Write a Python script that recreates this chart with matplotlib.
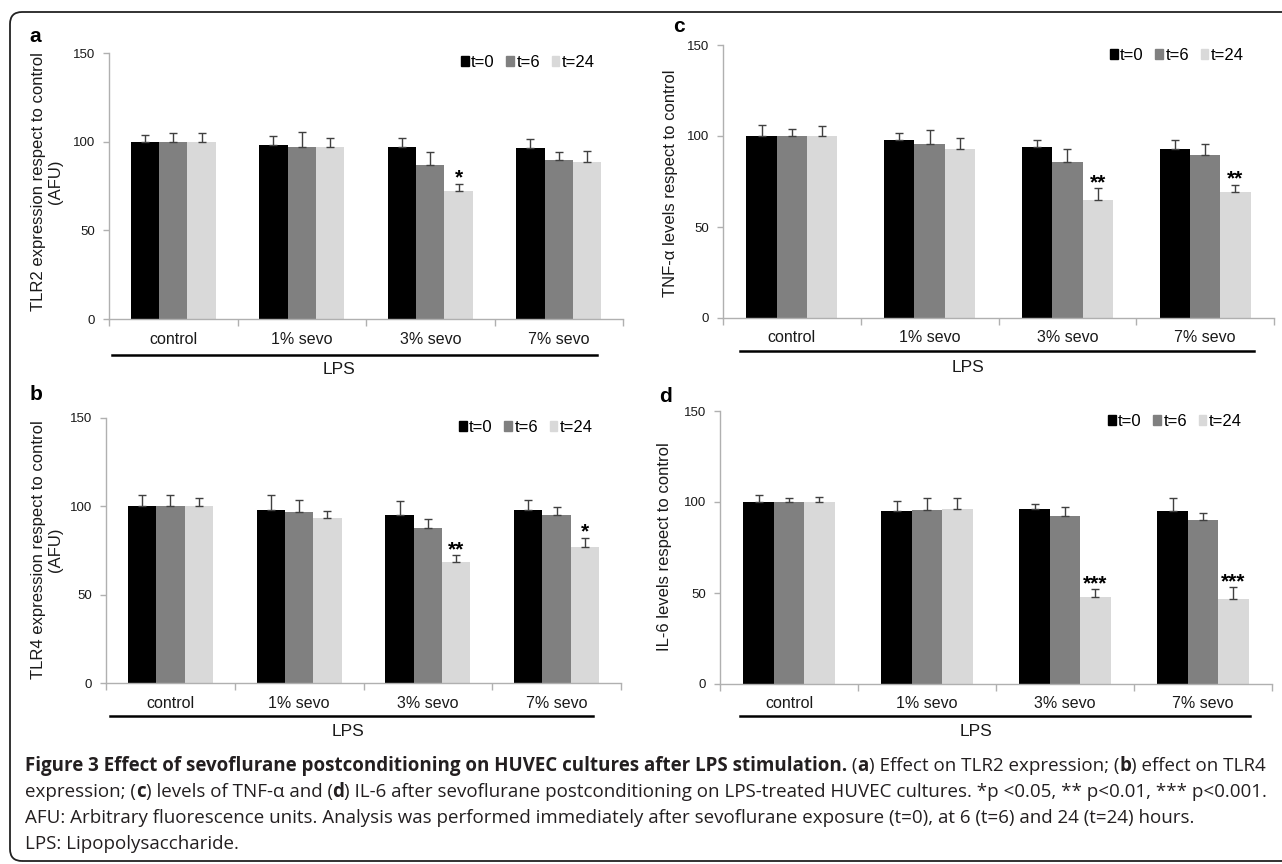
import numpy as np
import matplotlib.pyplot as plt
from matplotlib.patches import Patch, FancyBboxPatch

W, H = 1282, 864
fig = plt.figure(figsize=(W / 100, H / 100), dpi=100)

CHART_FONT = ['Liberation Sans', 'DejaVu Sans']
CAP_FONT = ['Open Sans', 'DejaVu Sans']

categories = ['control', '1% sevo', '3% sevo', '7% sevo']
series = ['t=0', 't=6', 't=24']
colors = ['#000000', '#808080', '#d9d9d9']

# rows: t=0, t=6, t=24 ; columns: categories
tlr2_mean = [[100, 98, 97, 96.7], [100, 97, 87, 89.7], [100, 97, 72.2, 88.6]]
tlr2_err = [[4, 5.3, 5.2, 4.7], [5, 8.2, 7.3, 4.5], [5, 5.2, 4.1, 6]]
tlr2_stars = ['', '', '*', '']

tlr4_mean = [[100, 97.9, 95.1, 98.1], [100, 96.6, 88, 95.2], [100, 93.2, 68.3, 77.2]]
tlr4_err = [[6.5, 8.6, 8.2, 5.5], [6.5, 7, 5.1, 4.2], [4.6, 4, 4.2, 5.1]]
tlr4_stars = ['', '', '**', '*']

tnf_mean = [[100, 97.9, 93.8, 92.6], [100, 95.8, 85.6, 89.6], [100, 92.6, 64.9, 69.5]]
tnf_err = [[6.2, 4, 3.8, 5.1], [4, 7.3, 7.5, 6.2], [5.3, 6.4, 6.4, 3.8]]
tnf_stars = ['', '', '**', '**']

il6_mean = [[100, 95, 96.3, 95], [100, 95.8, 92.1, 89.9], [100, 96.3, 48, 46.7]]
il6_err = [[4, 5.5, 2.8, 7.2], [2.2, 6.4, 5.3, 4], [2.8, 5.9, 4.2, 6.4]]
il6_stars = ['', '', '***', '***']

ylabels = ['TLR2 expression respect to control\n(AFU)',
           'TLR4 expression respect to control\n(AFU)',
           'TNF-\u03b1 levels respect to control',
           'IL-6 levels respect to control']


def px_axes(l, r, t, b):
    return fig.add_axes([l / W, 1 - b / H, (r - l) / W, (b - t) / H])


def draw_panel(box, means, errs, stars, letter, letter_xy, ylabel, ylabel_xy,
               lps_line, lps_text):
    l, r, t, b = box
    ax = px_axes(l, r, t, b)
    x = np.arange(len(categories))
    bw = 0.22
    for i in range(3):
        xs = x + (i - 1) * bw
        ax.bar(xs, means[i], bw, color=colors[i], zorder=2)
        ax.errorbar(xs, means[i], yerr=[np.zeros(len(x)), errs[i]], fmt='none',
                    ecolor='#404040', elinewidth=1, capsize=3, capthick=1, zorder=3)
    for j, s in enumerate(stars):
        if s:
            ax.annotate(s, (x[j] + bw, means[2][j] + errs[2][j]), xytext=(0, 0),
                        textcoords='offset points', ha='center', va='baseline',
                        fontsize=15, fontweight='bold', family=CHART_FONT)

    ax.set_xlim(-0.5, 3.5)
    ax.set_ylim(0, 150)
    ax.set_yticks([0, 50, 100, 150])
    ax.set_xticks(x)
    ax.set_xticklabels(categories, family=CHART_FONT, fontsize=11.5, color='#1a1a1a')
    ax.set_xticks(np.arange(-0.5, 4, 1), minor=True)
    ax.tick_params(axis='x', which='major', length=0, pad=9)
    ax.tick_params(axis='x', which='minor', length=5, color='#b0b0b0', width=1)
    ax.tick_params(axis='y', length=4, color='#b0b0b0', width=1, pad=6,
                   labelsize=9.5, labelcolor='#1a1a1a')
    for lab in ax.get_yticklabels():
        lab.set_family(CHART_FONT)
    for sp in ['top', 'right']:
        ax.spines[sp].set_visible(False)
    for sp in ['left', 'bottom']:
        ax.spines[sp].set_color('#b0b0b0')
        ax.spines[sp].set_linewidth(1)

    handles = [Patch(color=c) for c in colors]
    ax.legend(handles, series, ncol=3, loc='center right', bbox_to_anchor=(0.945, 0.963),
              frameon=False, handlelength=0.45, handleheight=0.55, handletextpad=0.15,
              columnspacing=0.7, borderpad=0, borderaxespad=0,
              prop={'family': CHART_FONT, 'size': 12})

    hpx = b - t
    x0, x1, off = lps_line
    ax.plot([x0, x1], [-off / hpx, -off / hpx], transform=ax.transAxes, clip_on=False,
            color='black', lw=1.8)
    tx, toff = lps_text
    ax.text(tx, -toff / hpx, 'LPS', transform=ax.transAxes, ha='center', va='center',
            fontsize=12.5, family=CHART_FONT, color='#1a1a1a')

    fig.text(letter_xy[0] / W, 1 - letter_xy[1] / H, letter, ha='center', va='center',
             fontsize=15, fontweight='bold', family=CHART_FONT)
    fig.text(ylabel_xy[0] / W, 1 - ylabel_xy[1] / H, ylabel, rotation=90, ha='center',
             va='center', multialignment='center', fontsize=12, family=CHART_FONT,
             color='#1a1a1a', linespacing=1.2)
    return ax


draw_panel((109, 623, 53, 319), tlr2_mean, tlr2_err, tlr2_stars, 'a', (35, 37),
           ylabels[0], (47, 182), (0.006, 0.949, 36), (0.447, 51))
draw_panel((106, 621, 418, 683), tlr4_mean, tlr4_err, tlr4_stars, 'b', (36, 394),
           ylabels[1], (47, 550), (0.008, 0.946, 33), (0.47, 49))
draw_panel((723, 1274, 45, 318), tnf_mean, tnf_err, tnf_stars, 'c', (679, 27),
           ylabels[2], (671, 183), (0.031, 0.964, 33), (0.445, 49))
draw_panel((720, 1272, 411, 684), il6_mean, il6_err, il6_stars, 'd', (666, 397),
           ylabels[3], (665, 547), (0.036, 0.96, 32), (0.464, 48))

# frame round the figure
fig.patches.append(FancyBboxPatch((0.10, 0.03), 13.0, 8.49,
                                  boxstyle='round,pad=0,rounding_size=0.12',
                                  transform=fig.dpi_scale_trans, fill=False,
                                  edgecolor='#222222', lw=1.3))

# caption, drawn run by run so the bold pieces sit inline
caption = [
    [('Figure 3 Effect of sevoflurane postconditioning on HUVEC cultures after LPS stimulation.', True),
     (' (', False), ('a', True), (') Effect on TLR2 expression; (', False), ('b', True),
     (') effect on TLR4', False)],
    [('expression; (', False), ('c', True), (') levels of TNF-\u03b1 and (', False), ('d', True),
     (') IL-6 after sevoflurane postconditioning on LPS-treated HUVEC cultures. *p <0.05, ** p<0.01, *** p<0.001.', False)],
    [('AFU: Arbitrary fluorescence units. Analysis was performed immediately after sevoflurane exposure (t=0), at 6 (t=6) and 24 (t=24) hours.', False)],
    [('LPS: Lipopolysaccharide.', False)],
]
baselines = [771, 797, 823, 849]
cap_size = 13.5
renderer = fig.canvas.get_renderer()


def run_width(s, bold):
    # pad with bars so leading/trailing spaces count
    t = fig.text(0, 0, '|' + s + '|', fontsize=cap_size, family=CAP_FONT,
                 fontweight='bold' if bold else 'normal')
    t2 = fig.text(0, 0, '||', fontsize=cap_size, family=CAP_FONT,
                  fontweight='bold' if bold else 'normal')
    w = t.get_window_extent(renderer).width - t2.get_window_extent(renderer).width
    t.remove()
    t2.remove()
    return w


for line, yb in zip(caption, baselines):
    xp = 25
    for s, bold in line:
        fig.text(xp / W, 1 - yb / H, s, fontsize=cap_size, family=CAP_FONT,
                 fontweight='bold' if bold else 'normal', ha='left', va='baseline',
                 color='#231f20')
        xp += run_width(s, bold)

fig.savefig('out.png', dpi=100)
